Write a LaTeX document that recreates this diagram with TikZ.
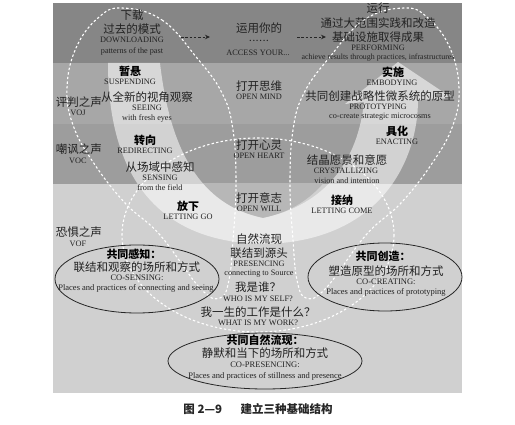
\documentclass[tikz,border=0pt]{standalone}
\usepackage{fontspec}
\setmainfont{Liberation Serif}
\newfontfamily\cjk{Noto Sans CJK SC}
\usetikzlibrary{arrows.meta}
\definecolor{bandA}{HTML}{868686}
\definecolor{bandB}{HTML}{A7A7A7}
\definecolor{bandC}{HTML}{9D9D9D}
\definecolor{bandD}{HTML}{D0D0D0}
\definecolor{innerU}{HTML}{B7B7B7}
\definecolor{txt}{HTML}{222222}
\tikzset{
  zh/.style={inner sep=0pt, font=\cjk\fontsize{11.5}{13}\selectfont, text=txt},
  zhb/.style={inner sep=0pt, font=\cjk\bfseries\fontsize{11}{13}\selectfont, text=black},
  en/.style={inner sep=0pt, font=\fontsize{8.2}{9}\selectfont, text=txt},
  encap/.style={inner sep=0pt, font=\fontsize{8.3}{9}\selectfont, text=txt},
  ovaltext/.style={inner sep=0pt, font=\fontsize{8.5}{9}\selectfont, text=txt},
  wdash/.style={draw=white, line width=1.1pt, dash pattern=on 2.4pt off 2.2pt},
  oval/.style={draw=black!85, line width=0.8pt},
  flowarrow/.style={draw=black!85, line width=0.8pt, dash pattern=on 2.5pt off 1.8pt, -{Stealth[length=5pt,width=4.5pt]}},
}
\begin{document}
\begin{tikzpicture}[x=1pt,y=-1pt]
\useasboundingbox (0,0) rectangle (515,425);
\fill[white] (0,0) rectangle (515,425);
% bands
\fill[bandA] (53,3) rectangle (462,63);
\fill[bandB] (53,63) rectangle (462,124);
\fill[bandC] (53,124) rectangle (462,184);
\fill[bandD] (53,184) rectangle (462,393);
% darker inside of the U in lowest band
\begin{scope}
\clip (53,184) rectangle (462,393);
\fill[innerU] (160,63) .. controls (170,150) and (200,205) .. (263,218)
  .. controls (326,205) and (356,150) .. (366,63) -- cycle;
\end{scope}
% U arrow
\fill[white, opacity=0.55] (108,63) .. controls (108,160) and (145,242) .. (263,244)
  .. controls (381,242) and (418,160) .. (418,100) -- (452,98) -- (398,62) -- (345,104) -- (364,102)
  .. controls (358,160) and (326,205) .. (263,218)
  .. controls (200,205) and (170,150) .. (160,63) -- cycle;
% dashed white loops
\draw[wdash] plot[smooth cycle, tension=0.7] coordinates {(122,8) (162,20) (197,58) (222,93) (233,130) (236,185) (233,240) (229,280) (220,298) (200,288) (160,235) (125,203) (93,162) (73,125) (67,88) (76,48) (98,18)};
\draw[wdash] plot[smooth cycle, tension=0.7] coordinates {(404,8) (364,20) (329,58) (304,93) (293,130) (290,185) (293,240) (297,280) (306,298) (326,288) (366,235) (401,203) (433,162) (453,125) (459,88) (450,48) (428,18)};
\draw[wdash] (258,235) ellipse [x radius=136, y radius=97];
% solid ovals
\draw[oval] (137,279) ellipse [x radius=82, y radius=34];
\draw[oval] (385,277) ellipse [x radius=77, y radius=34];
\draw[oval] (265,361) ellipse [x radius=97, y radius=28];
% band 1
\node[zh] (dl1) at (132,15) {下载};
\node[zh] (dl2) at (132,29) {过去的模式};
\node[encap] (dl3) at (132,40) {DOWNLOADING};
\node[en] (dl4) at (132,51) {patterns of the past};
\node[zh] (ac1) at (259,28) {运用你的};
\node[inner sep=0pt, font=\bfseries\fontsize{8.5}{9}\selectfont, text=txt] (ac2) at (259,41) {.\hspace{1.3pt}.\hspace{1.3pt}.\hspace{1.3pt}.\hspace{1.3pt}.\hspace{1.3pt}.};
\node[encap] (ac3) at (258,53) {ACCESS YOUR...};
\node[zh] (pf0) at (378,8) {运行};
\node[zh] (pf1) at (378,23) {通过大范围实践和改造};
\node[zh] (pf2) at (378,37) {基础设施取得成果};
\node[encap] (pf3) at (378,48) {PERFORMING};
\node[en, font=\fontsize{7.9}{9}\selectfont] (pf4) at (378,58) {achieve results through practices, infrastructures};
\coordinate (a1s) at (181,37);
\coordinate (a1e) at (210,37);
\coordinate (a2s) at (297,37);
\coordinate (a2e) at (326,37);
\draw[flowarrow] (a1s) -- (a1e);
\draw[flowarrow] (a2s) -- (a2e);
% band 2
\node[zhb] (su1) at (130,71) {暂悬};
\node[encap] (su2) at (130,82) {SUSPENDING};
\node[zh] (voj1) at (79,102) {评判之声};
\node[encap] (voj2) at (78,113) {VOJ};
\node[zh] (se1) at (147,97) {从全新的视角观察};
\node[encap] (se2) at (147,108) {SEEING};
\node[en] (se3) at (147,118) {with fresh eyes};
\node[zh] (om1) at (259,86) {打开思维};
\node[encap] (om2) at (259,97) {OPEN MIND};
\node[zhb] (em1) at (393,72) {实施};
\node[encap] (em2) at (392,83) {EMBODYING};
\node[zh] (pr1) at (380,96) {共同创建战略性微系统的原型};
\node[encap] (pr2) at (378,107) {PROTOTYPING};
\node[en] (pr3) at (380,117) {co-create strategic microcosms};
% band 3
\node[zhb] (rd1) at (145,140) {转向};
\node[encap] (rd2) at (145,151) {REDIRECTING};
\node[zh] (voc1) at (79,149) {嘲讽之声};
\node[encap] (voc2) at (78,161) {VOC};
\node[zh] (sn1) at (160,167) {从场域中感知};
\node[encap] (sn2) at (160,178) {SENSING};
\node[en] (sn3) at (160,188) {from the field};
\node[zh] (oh1) at (259,145) {打开心灵};
\node[encap] (oh2) at (259,156) {OPEN HEART};
\node[zhb] (en1) at (397,131) {具化};
\node[encap] (en2) at (397,142) {ENACTING};
\node[zh] (cr1) at (347,160) {结晶愿景和意愿};
\node[encap] (cr2) at (346,171) {CRYSTALLIZING};
\node[en] (cr3) at (347,181) {vision and intention};
% band 4
\node[zhb] (lg1) at (188,206) {放下};
\node[encap] (lg2) at (188,217) {LETTING GO};
\node[zh] (ow1) at (259,198) {打开意志};
\node[encap] (ow2) at (259,209) {OPEN WILL};
\node[zhb] (lc1) at (342,200) {接纳};
\node[encap] (lc2) at (342,211) {LETTING COME};
\node[zh] (vof1) at (79,232) {恐惧之声};
\node[encap] (vof2) at (78,244) {VOF};
\node[zh] (ps1) at (259,239) {自然流现};
\node[zh] (ps2) at (259,253) {联结到源头};
\node[encap] (ps3) at (259,264) {PRESENCING};
\node[en] (ps4) at (259,274) {connecting to Source};
\node[zh] (ws1) at (258,287) {我是谁？};
\node[encap] (ws2) at (258,299) {WHO IS MY SELF?};
\node[zh] (ww1) at (258,312) {我一生的工作是什么？};
\node[encap] (ww2) at (258,323) {WHAT IS MY WORK?};
% ovals text
\node[zhb] (cs1) at (134,254) {共同感知：};
\node[zh] (cs2) at (137,267) {联结和观察的场所和方式};
\node[ovaltext] (cs3) at (137,278) {CO-SENSING:};
\node[ovaltext] (cs4) at (136,288) {Places and practices of connecting and seeing};
\node[zhb] (cc1) at (383,256) {共同创造：};
\node[zh] (cc2) at (386,271) {塑造原型的场所和方式};
\node[ovaltext] (cc3) at (386,282) {CO-CREATING:};
\node[ovaltext] (cc4) at (386,292) {Places and practices of prototyping};
\node[zhb] (cp1) at (265,340) {共同自然流现：};
\node[zh] (cp2) at (265,353) {静默和当下的场所和方式};
\node[ovaltext] (cp3) at (265,365) {CO-PRESENCING:};
\node[ovaltext] (cp4) at (265,376) {Places and practices of stillness and presence};
% caption
\node[inner sep=0pt, font=\cjk\bfseries\fontsize{11.5}{13}\selectfont, text=black!85] (cap) at (258,409) {图 2—9\hspace{1.6em}建立三种基础结构};
\end{tikzpicture}
\end{document}
